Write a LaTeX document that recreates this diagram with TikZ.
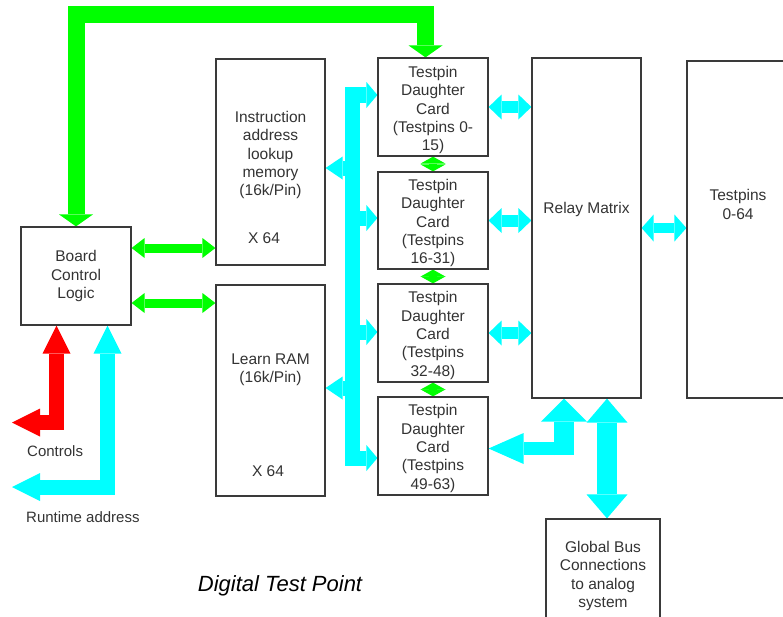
\documentclass[tikz,border=0pt]{standalone}
\usepackage{fontspec}
\setmainfont{Liberation Sans}
\usetikzlibrary{arrows.meta,backgrounds}
\definecolor{fgreen}{HTML}{00FF00}
\definecolor{fcyan}{HTML}{00FFFF}
\definecolor{fred}{HTML}{FF0000}
\definecolor{boxgray}{HTML}{3A3A3A}
\definecolor{txtgray}{HTML}{333333}
\tikzset{
  box/.style={draw=boxgray, line width=1.2pt, inner sep=0pt, align=center,
    text=txtgray, font=\fontsize{15.5}{18.3}\selectfont},
  txt/.style={inner sep=0pt, align=center, text=txtgray,
    font=\fontsize{15.5}{18.3}\selectfont},
  lbl/.style={inner sep=0pt, text=txtgray, font=\fontsize{15}{18}\selectfont},
  fat/.style n args={3}{line width=#1pt, line join=miter,
    {Triangle[width=#2pt,length=#3pt,line width=0pt]}-{Triangle[width=#2pt,length=#3pt,line width=0pt]}},
  fatend/.style n args={3}{line width=#1pt, line join=miter,
    -{Triangle[width=#2pt,length=#3pt,line width=0pt]}},
}
\begin{document}
\begin{tikzpicture}[x=1pt,y=-1pt]
\useasboundingbox (0,0) rectangle (783,616);
\clip (0,0) rectangle (783,616);

% boxes
\node[box, minimum width=110pt, minimum height=98pt] (bcl) at (76,276) {Board\\Control\\Logic};
\node[box, minimum width=109pt, minimum height=206pt] (instr) at (270.5,162) {};
\node[box, minimum width=109pt, minimum height=211pt] (lrn) at (270.5,390.5) {};
\node[box, minimum width=110pt, minimum height=98pt] (card1) at (433,107) {};
\node[box, minimum width=110pt, minimum height=97pt] (card2) at (433,220.5) {};
\node[box, minimum width=110pt, minimum height=98pt] (card3) at (433,333) {};
\node[box, minimum width=110pt, minimum height=98pt] (card4) at (433,446) {};
\node[box, minimum width=109pt, minimum height=340pt] (relay) at (586.5,228) {};
\node[box, minimum width=113pt, minimum height=337pt] (pins) at (743.5,229.5) {};
\node[box, minimum width=114pt, minimum height=121pt] (gbus) at (603,579.5) {};

% texts
\node[txt] (card1txt) at (433,110) {Testpin\\Daughter\\Card\\(Testpins 0-\\15)};
\node[txt] (card2txt) at (433,223) {Testpin\\Daughter\\Card\\(Testpins\\16-31)};
\node[txt] (card3txt) at (433,335.5) {Testpin\\Daughter\\Card\\(Testpins\\32-48)};
\node[txt] (card4txt) at (433,448.5) {Testpin\\Daughter\\Card\\(Testpins\\49-63)};
\node[txt] (instrtxt) at (270.5,155) {Instruction\\address\\lookup\\memory\\(16k/Pin)};
\node[txt] (instrx) at (264,238) {X 64};
\node[txt] (lrntxt) at (270.5,369.5) {Learn RAM\\(16k/Pin)};
\node[txt] (lrnx) at (268,471) {X 64};
\node[txt] (relaytxt) at (586.5,209) {Relay Matrix};
\node[txt] (pinstxt) at (738,204.5) {Testpins\\0-64};
\node[txt] (gbtxt) at (603,576) {Global Bus\\Connections\\to analog\\system};
\node[lbl, anchor=west] (ctl) at (27,451) {Controls};
\node[lbl, anchor=west] (rta) at (26,517) {Runtime address};
\node[inner sep=0pt, font=\fontsize{22}{25}\selectfont\itshape] (title) at (280,586) {Digital Test Point};

% level coordinates
\coordinate (g1) at (0,248);
\coordinate (g2) at (0,303);
\coordinate (b1) at (345,95);
\coordinate (b2) at (345,218);
\coordinate (b3) at (345,332);
\coordinate (b4) at (345,458);
\coordinate (l1) at (352,168);
\coordinate (l2) at (352,388);
\coordinate (topy) at (425.5,14);
\coordinate (redx) at (56.5,0);
\coordinate (cyx) at (107.5,0);
\coordinate (ctrlend) at (12,422.5);
\coordinate (rtend) at (12,487);
\coordinate (ax) at (564,455);
\coordinate (ah) at (574,448.5);
\coordinate (bx) at (607,0);

\begin{scope}[on background layer]
% green
\draw[fgreen, fat={17}{34}{12}] (bcl.north) |- (topy) -- (topy |- card1.north);
\draw[fgreen, fat={9}{20}{13}] (bcl.east |- g1) -- (instr.west |- g1);
\draw[fgreen, fat={9}{20}{13}] (bcl.east |- g2) -- (lrn.west |- g2);
\draw[fgreen, fat={8}{25}{7}] (card1.south) -- (card2.north);
\draw[fgreen, fat={8}{25}{7}] (card2.south) -- (card3.north);
\draw[fgreen, fat={8}{25}{7}] (card3.south) -- (card4.north);
% red and cyan from board control logic
\draw[fred, fat={15}{28}{28}] (ctrlend) -| (redx |- bcl.south);
\draw[fcyan, fat={15}{28}{28}] (rtend) -| (cyx |- bcl.south);
% cyan bus
\fill[fcyan] (345,87) rectangle (360,465);
\draw[fcyan, fatend={16}{26}{11}] (b1) -- (card1.west |- b1);
\draw[fcyan, fatend={15}{26}{11}] (b2) -- (card2.west |- b2);
\draw[fcyan, fatend={15}{26}{11}] (b3) -- (card3.west |- b3);
\draw[fcyan, fatend={15}{26}{11}] (b4) -- (card4.west |- b4);
\draw[fcyan, fatend={15}{23}{17}] (l1) -- (instr.east |- l1);
\draw[fcyan, fatend={15}{23}{17}] (l2) -- (lrn.east |- l2);
% cards to relay
\draw[fcyan, fat={12}{25}{13}] (card1.east) -- (relay.west |- card1.east);
\draw[fcyan, fat={12}{25}{13}] (card2.east) -- (relay.west |- card2.east);
\draw[fcyan, fat={12}{25}{13}] (card3.east) -- (relay.west |- card3.east);
\draw[fcyan, fat={10}{27}{12}] (relay.east) -- (pins.west |- relay.east);
% bottom
\draw[fcyan, fatend={20}{46}{23}] (ax) -- (ax |- relay.south);
\draw[fcyan, fatend={13}{31}{35}] (ah) -- (card4.east |- ah);
\draw[fcyan, fat={20}{41}{24}] (bx |- relay.south) -- (bx |- gbus.north);
\end{scope}
\end{tikzpicture}
\end{document}
